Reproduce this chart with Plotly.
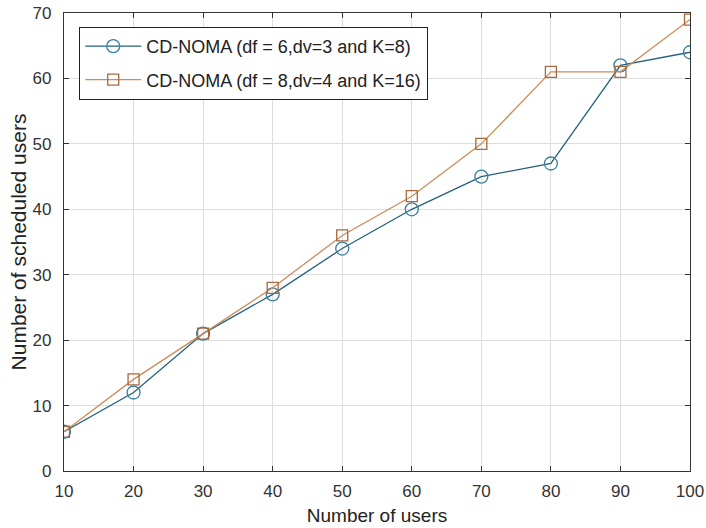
import plotly.graph_objects as go

users = [10, 20, 30, 40, 50, 60, 70, 80, 90, 100]
series_a = [6, 12, 21, 27, 34, 40, 45, 47, 62, 64]
series_b = [6, 14, 21, 28, 36, 42, 50, 61, 61, 69]
name_a = "CD-NOMA (df = 6,dv=3 and K=8)"
name_b = "CD-NOMA (df = 8,dv=4 and K=16)"
x_ticks = [10, 20, 30, 40, 50, 60, 70, 80, 90, 100]
y_ticks = [0, 10, 20, 30, 40, 50, 60, 70]

blue = "#23617f"
orange = "#cc8c58"
FONT_R = "Liberation Sans, Arial, sans-serif"

fig = go.Figure()
fig.add_trace(go.Scatter(
    x=users, y=series_a, name=name_a, mode="lines+markers", legendgroup="a",
    line=dict(color=blue, width=1.3),
    marker=dict(symbol="circle-open", size=13, color="#3a7ea0", line=dict(width=1.3)),
))
fig.add_trace(go.Scatter(
    x=users, y=series_b, name=name_b, mode="lines+markers", legendgroup="b",
    line=dict(color=orange, width=1.3),
    marker=dict(symbol="square-open", size=11, color="#a8683e", line=dict(width=1.3)),
))

axis_common = dict(
    showgrid=True, gridcolor="#dedede", gridwidth=1,
    showline=True, linecolor="#333333", linewidth=1.2, mirror="ticks",
    ticks="inside", ticklen=5, tickcolor="#333333",
    zeroline=False, automargin=False,
    tickfont=dict(family=FONT_R, size=17, color="#333333"),
)

fig.update_layout(
    width=706, height=528,
    paper_bgcolor="white", plot_bgcolor="white",
    margin=dict(l=64, r=16, t=13, b=57),
    showlegend=True,
    legend=dict(
        x=0.024, y=0.97, xanchor="left", yanchor="top",
        bordercolor="#222222", borderwidth=1.2, bgcolor="white",
        font=dict(family=FONT_R, size=18, color="#222222"),
        itemwidth=56, traceorder="grouped", tracegroupgap=7,
    ),
    xaxis=dict(range=[10, 100], tickvals=x_ticks, ticklabelstandoff=4,
               title=dict(text="Number of users", standoff=9,
                          font=dict(family=FONT_R, size=19, color="#222222")),
               **axis_common),
    yaxis=dict(range=[0, 70], tickvals=y_ticks, ticklabelstandoff=8,
               title=dict(text="Number of scheduled users", standoff=0,
                          font=dict(family=FONT_R, size=21, color="#222222")),
               **axis_common),
)

fig.write_html(
    "out.html",
    config={"displayModeBar": False},
    post_script="document.body.style.margin='0';document.body.style.padding='0';",
)
